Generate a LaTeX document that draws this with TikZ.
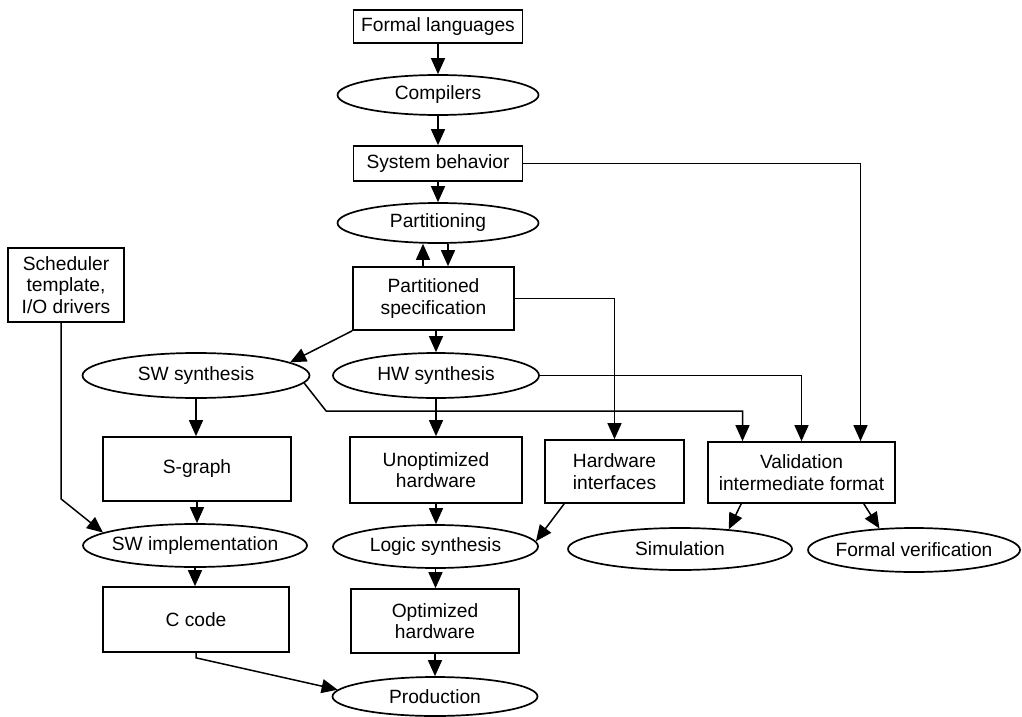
\documentclass[tikz,border=0pt]{standalone}
\usepackage{fontspec}
\setmainfont{Liberation Sans}
\usetikzlibrary{shapes.geometric,arrows.meta,calc}
\begin{document}
\begin{tikzpicture}[x=0.5pt,y=-0.5pt]
\tikzset{
 base/.style={draw, line width=0.85pt, inner sep=0pt, align=center, font=\fontsize{9.6}{10.8}\selectfont},
 box/.style={base, rectangle},
 oval/.style={base, ellipse, inner xsep=-8pt, inner ysep=0pt},
 arr/.style={line width=0.75pt, -{Triangle[length=8pt,width=7pt]}}
}
\useasboundingbox (0,0) rectangle (1022,717);
\node[box, minimum width=84.5pt, minimum height=16.5pt] (fl) at (438,26.5) {Formal languages};
\node[oval, minimum width=100.5pt, minimum height=20pt] (comp) at (438,95) {Compilers};
\node[box, minimum width=84.5pt, minimum height=17.5pt] (sb) at (438,163.5) {System behavior};
\node[oval, minimum width=100.5pt, minimum height=20pt] (part) at (438,223) {Partitioning};
\node[box, minimum width=80.5pt, minimum height=31.5pt] (ps) at (433.5,298.5) {Partitioned\\specification};
\node[box, minimum width=58pt, minimum height=37pt] (sched) at (66,285) {Scheduler\\template,\\I/O drivers};
\node[oval, minimum width=113.5pt, minimum height=22.5pt] (sw) at (196,375.5) {SW synthesis};
\node[oval, minimum width=103pt, minimum height=22.5pt] (hw) at (436,375.5) {HW synthesis};
\node[box, minimum width=94pt, minimum height=32pt] (sg) at (197,469) {S-graph};
\node[box, minimum width=86pt, minimum height=33pt] (unopt) at (436,470) {Unoptimized\\hardware};
\node[box, minimum width=69.5pt, minimum height=31.5pt] (hi) at (614.5,471.5) {Hardware\\interfaces};
\node[box, minimum width=93.5pt, minimum height=30.5pt] (val) at (801.5,472.5) {Validation\\intermediate format};
\node[oval, minimum width=112pt, minimum height=21.5pt] (swimpl) at (195,545.5) {SW implementation};
\node[oval, minimum width=102.5pt, minimum height=21.5pt] (logic) at (435.5,546.5) {Logic synthesis};
\node[oval, minimum width=112pt, minimum height=21pt] (sim) at (680,549) {Simulation};
\node[oval, minimum width=106pt, minimum height=22pt] (fv) at (914,550) {Formal verification};
\node[box, minimum width=93pt, minimum height=32.5pt] (cc) at (196,619.5) {C code};
\node[box, minimum width=84pt, minimum height=32pt] (opt) at (435,621) {Optimized\\hardware};
\node[oval, minimum width=102.5pt, minimum height=19.5pt] (prod) at (435,696.5) {Production};

\draw[arr] (fl.south) -- (fl.south |- comp.north);
\draw[arr] (comp.south) -- (comp.south |- sb.north);
\draw[arr] (sb.south) -- (sb.south |- part.north);
\draw[arr] ([xshift=-5.25pt]ps.north) -- ([xshift=-5.25pt]ps.north |- part.south);
\draw[arr] ([xshift=7.25pt]ps.north |- part.south) -- ([xshift=7.25pt]ps.north);
\draw[arr] (ps.south west) -- (sw.8);
\draw[arr] (ps.south -| hw.north) -- (hw.north);
\draw[arr] (ps.east) -| (hi.north);
\draw[arr] (sb.east) -| ([xshift=29.5pt]val.north);
\draw[arr] (hw.east) -| (val.north);
\draw[arr] (sw.-4) -- ++(11pt,-14pt) -| ([xshift=-29.5pt]val.north);
\draw[arr] (sw.south) -- (sw.south |- sg.north);
\draw[arr] (hw.south) -- (hw.south |- unopt.north);
\draw[arr] (sg.south) -- (sg.south |- swimpl.north);
\draw[arr] (unopt.south) -- (unopt.south |- logic.north);
\draw[arr] ([xshift=-2.5pt]sched.south) -- ++(0,-88pt) -- (swimpl.172);
\draw[arr] ([xshift=10pt]hi.south west) -- (logic.3);
\draw[arr] ([xshift=17pt]val.south west) -- (sim.22);
\draw[arr] ([xshift=-16pt]val.south east) -- (fv.148);
\draw[arr] (swimpl.south) -- (swimpl.south |- cc.north);
\draw[arr] (logic.south) -- (logic.south |- opt.north);
\draw[arr] (opt.south) -- (opt.south |- prod.north);
\draw[arr] (cc.south) -- ++(0,-2.5pt) -- (prod.176);
\end{tikzpicture}
\end{document}
